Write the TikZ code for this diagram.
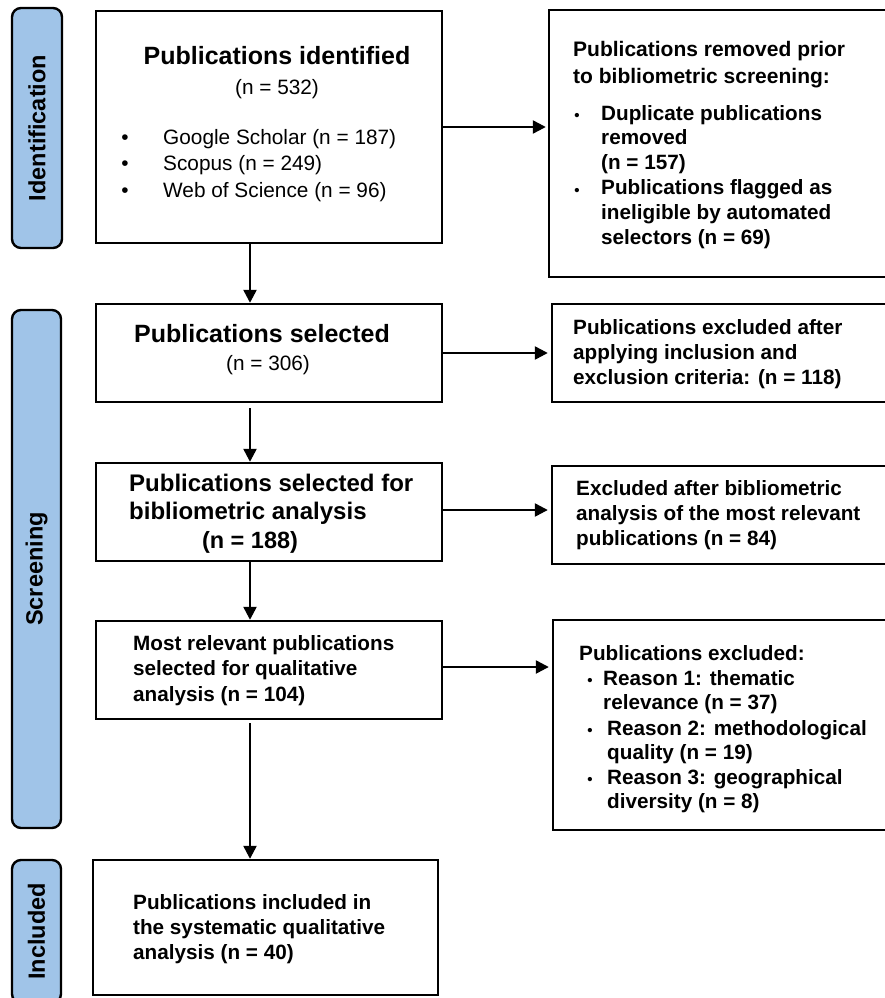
\documentclass[tikz,border=0pt]{standalone}
\usepackage{fontspec}
\setmainfont{Liberation Sans}
\usetikzlibrary{arrows.meta}
\definecolor{stagefill}{RGB}{160,196,232}
\begin{document}
\begin{tikzpicture}[x=1pt,y=-1pt,
  box/.style={draw=black, line width=2.4pt, fill=white, inner sep=0pt},
  stage/.style={draw=black, line width=2.4pt, fill=stagefill, rounded corners=9pt, inner sep=0pt,
    rotate=90, font=\bfseries\fontsize{23.5}{28}\selectfont},
  arr/.style={line width=2.4pt, -{Triangle[length=13pt,width=13pt]}},
  bt/.style={anchor=base west, inner sep=0pt, align=left, font=\bfseries\fontsize{20.7}{25.3}\selectfont},
  rt/.style={anchor=base west, inner sep=0pt, align=left, font=\fontsize{20.8}{26.5}\selectfont},
  hd/.style={anchor=base, inner sep=0pt, font=\bfseries\fontsize{25}{30}\selectfont},
  bigbul/.style={anchor=base, inner sep=0pt, font=\fontsize{20.8}{25}\selectfont},
  smallbul/.style={anchor=base, inner sep=0pt, font=\bfseries\fontsize{15}{18}\selectfont}
]
\useasboundingbox (0,0) rectangle (885,998);

% stage bars
\node[stage, minimum width=240pt, minimum height=50pt] (sid) at (37,128) {Identification};
\node[stage, minimum width=518pt, minimum height=49pt] (sscr) at (36.5,569) {Screening};
\node[stage, minimum width=143pt, minimum height=49pt] (sinc) at (36.5,931.5) {Included};

% left column boxes
\node[box, minimum width=346pt, minimum height=232pt] (b1) at (269,127) {};
\node[box, minimum width=346pt, minimum height=98pt] (b2) at (269,353) {};
\node[box, minimum width=346pt, minimum height=98pt] (b3) at (269,512) {};
\node[box, minimum width=346pt, minimum height=98pt] (b4) at (269,670) {};
\node[box, minimum width=345pt, minimum height=135pt] (b5) at (265.5,927.5) {};

% right column boxes
\node[box, minimum width=341pt, minimum height=267pt] (r1) at (719.5,143.5) {};
\node[box, minimum width=338pt, minimum height=98pt] (r2) at (721,353) {};
\node[box, minimum width=338pt, minimum height=98pt] (r3) at (721,515) {};
\node[box, minimum width=337pt, minimum height=210pt] (r4) at (721.5,725) {};

% connectors
\coordinate (ax) at (250,0);
\draw[arr] (b1.south -| ax) -- (b2.north -| ax);
\draw[arr] ([yshift=-5pt]b2.south -| ax) -- (b3.north -| ax);
\draw[arr] (b3.south -| ax) -- (b4.north -| ax);
\draw[arr] ([yshift=-3pt]b4.south -| ax) -- (b5.north -| ax);
\draw[arr, shorten >=2pt] (b1.east) -- (r1.west |- b1.east);
\draw[arr, shorten >=3pt] (b2.east) -- (r2.west |- b2.east);
\draw[arr, shorten >=3pt] ([yshift=2pt]b3.east) -- ([yshift=2pt]r3.west |- b3.east);
\draw[arr, shorten >=3pt] ([yshift=3pt]b4.east) -- ([yshift=3pt]r4.west |- b4.east);

% box 1 text
\node[hd] (t1h) at (277,64) {Publications identified};
\node[rt, anchor=base] (t1n) at (277,94) {(n = 532)};
\node[bigbul] (t1b1) at (125,144) {•};
\node[bigbul] (t1b2) at (125,170.5) {•};
\node[bigbul] (t1b3) at (125,197) {•};
\node[rt] (t1l) at (163,197) {Google Scholar (n = 187)\\Scopus (n = 249)\\Web of Science (n = 96)};

% right box 1 text
\node[bt, font=\bfseries\fontsize{21}{27}\selectfont] (r1h) at (573,83) {Publications removed prior\\to bibliometric screening:};
\node[smallbul] (r1b1) at (577,120) {•};
\node[smallbul] (r1b2) at (577,195) {•};
\node[bt, font=\bfseries\fontsize{20.7}{24.8}\selectfont] (r1l) at (601,244) {Duplicate publications\\removed\\(n = 157)\\Publications flagged as\\ineligible by automated\\selectors (n = 69)};

% box 2 text
\node[hd] (t2h) at (262,342) {Publications selected};
\node[rt, anchor=base] (t2n) at (268,370) {(n = 306)};

% box 3 text
\node[bt, font=\bfseries\fontsize{24}{28}\selectfont] (t3h) at (129,519) {Publications selected for\\bibliometric analysis};
\node[bt, anchor=base, font=\bfseries\fontsize{23.5}{28}\selectfont] (t3n) at (250,548) {(n = 188)};

% box 4 text
\node[bt, font=\bfseries\fontsize{20.7}{25.5}\selectfont] (t4) at (133,701) {Most relevant publications\\selected for qualitative\\analysis (n = 104)};

% box 5 text
\node[bt, font=\bfseries\fontsize{20.7}{25}\selectfont] (t5) at (133,959) {Publications included in\\the systematic qualitative\\analysis (n = 40)};

% right box 2 text
\node[bt] (r2t) at (573,384.6) {Publications excluded after\\applying inclusion and\\exclusion criteria: (n = 118)};

% right box 3 text
\node[bt] (r3t) at (576,545.6) {Excluded after bibliometric\\analysis of the most relevant\\publications (n = 84)};

% right box 4 text
\node[bt] (r4h) at (579,660) {Publications excluded:};
\node[smallbul] (r4b1) at (590,685) {•};
\node[smallbul] (r4b2) at (590,735) {•};
\node[smallbul] (r4b3) at (590,784) {•};
\node[bt, font=\bfseries\fontsize{20.7}{24}\selectfont] (r4l1) at (603,709) {Reason 1: thematic\\relevance (n = 37)};
\node[bt, font=\bfseries\fontsize{20.7}{24}\selectfont] (r4l2) at (607,759) {Reason 2: methodological\\quality (n = 19)};
\node[bt, font=\bfseries\fontsize{20.7}{24}\selectfont] (r4l3) at (607,808) {Reason 3: geographical\\diversity (n = 8)};
\end{tikzpicture}
\end{document}
